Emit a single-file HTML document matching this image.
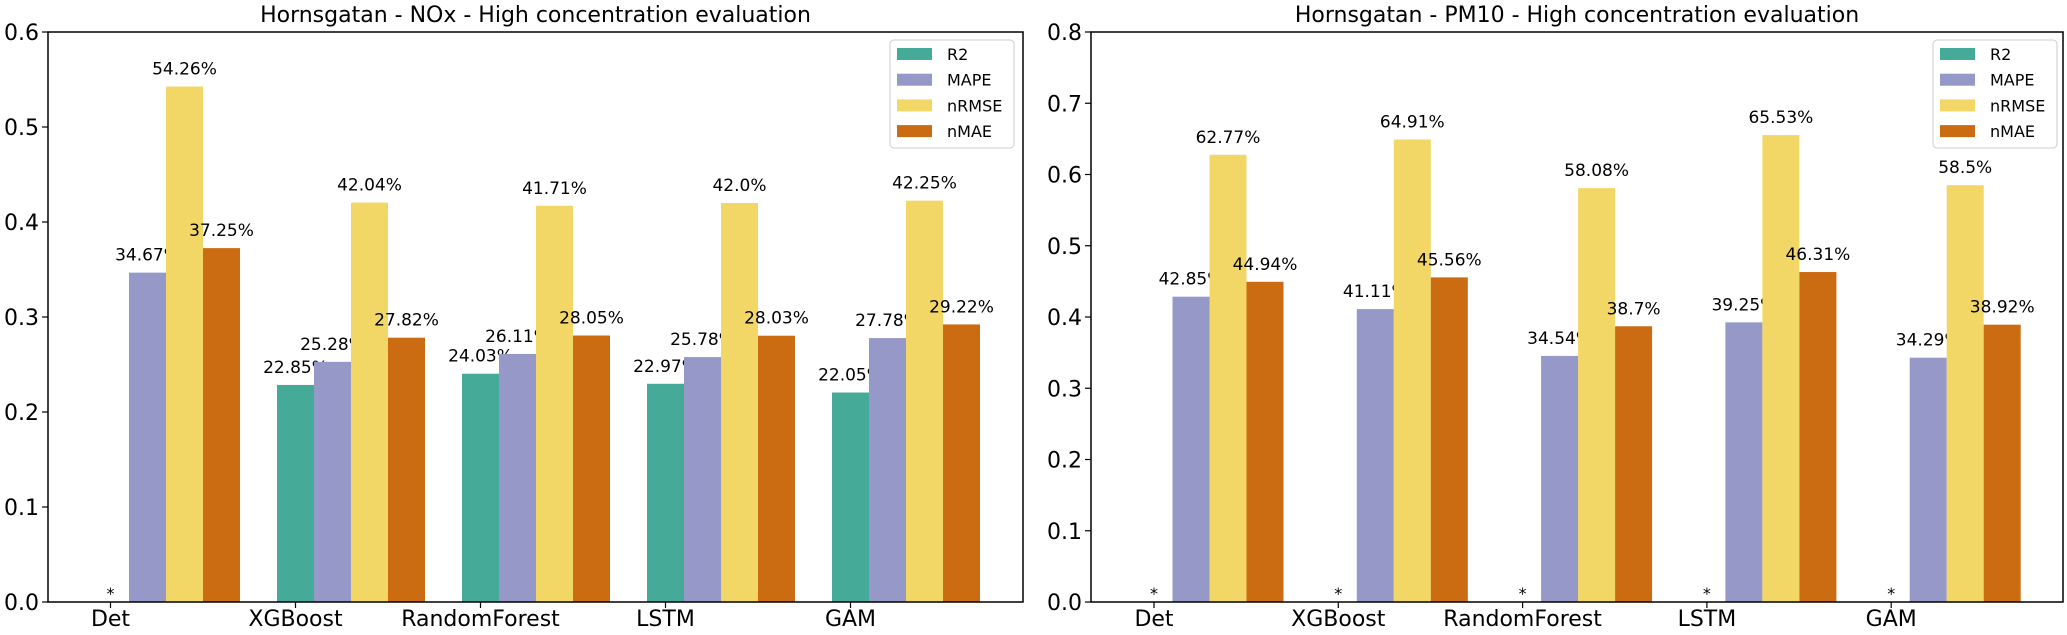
<!DOCTYPE html>
<html><head><meta charset="utf-8"><style>
body{margin:0;background:#fff}
svg{display:block;font-family:"DejaVu Sans","Liberation Sans",sans-serif}
</style></head><body>
<svg id="c" width="2067" height="635"></svg>
<script>
const categories=["Det","XGBoost","RandomForest","LSTM","GAM"];
const seriesNames=["R2","MAPE","nRMSE","nMAE"];
const colors=["#45aa98","#9698c8","#f2d666","#cb6b12"];
const noxR2=[0,0.2285,0.2403,0.2297,0.2205];
const noxMAPE=[0.3467,0.2528,0.2611,0.2578,0.2778];
const noxNRMSE=[0.5426,0.4204,0.4171,0.4200,0.4225];
const noxNMAE=[0.3725,0.2782,0.2805,0.2803,0.2922];
const pmR2=[0,0,0,0,0];
const pmMAPE=[0.4285,0.4111,0.3454,0.3925,0.3429];
const pmNRMSE=[0.6277,0.6491,0.5808,0.6553,0.5850];
const pmNMAE=[0.4494,0.4556,0.3870,0.4631,0.3892];
const noxTicks=[0,0.1,0.2,0.3,0.4,0.5,0.6];
const pmTicks=[0,0.1,0.2,0.3,0.4,0.5,0.6,0.7,0.8];

const NS="http://www.w3.org/2000/svg";
const svg=document.getElementById('c');
function mk(tag,attrs,parent){const e=document.createElementNS(NS,tag);for(const k in attrs)e.setAttribute(k,attrs[k]);(parent||svg).appendChild(e);return e;}
function fmt(v){let s=String(Math.round(v*10000)/100);if(s.indexOf('.')<0)s+='.0';return s+'%';}

function panel(opt){
  const g=mk('g',{});
  
  
  const L=opt.left,R=opt.right,T=32,B=602;
  const y=v=>B-(v/opt.ymax)*(B-T);
  const x=i=>opt.x0+i*opt.step;
  const bw=37;
  const t=mk('text',{x:(L+R)/2,y:22,'text-anchor':'middle','font-size':22},g);
  t.textContent=opt.title;
  
  
  const series=opt.series;
  series.forEach((vals,s)=>{
    vals.forEach((v,i)=>{
      const cx=x(i)+s*bw;
      if(v>0){
        const r=mk('rect',{x:cx-bw/2,y:y(v),width:bw,height:B-y(v),fill:colors[s]},g);
        
        
        const lb=mk('text',{x:cx,y:y(v)-12,'text-anchor':'middle','font-size':17},g);
        lb.textContent=fmt(v);
        
        
      } else {
        const lb=mk('text',{x:cx,y:B-3,'text-anchor':'middle','font-size':16},g);
        lb.textContent='*';
        
        
      }
    });
  });
  mk('rect',{x:L,y:T,width:R-L,height:B-T,fill:'none',stroke:'#000','stroke-width':1.5},g);
  opt.ticks.forEach(v=>{
    mk('line',{x1:L-6,x2:L,y1:y(v),y2:y(v),stroke:'#000','stroke-width':1.2},g);
    const tl=mk('text',{x:L-9,y:y(v)+8,'text-anchor':'end','font-size':22},g);
    tl.textContent=v.toFixed(1);
    
    
  });
  categories.forEach((c,i)=>{
    mk('line',{x1:x(i),x2:x(i),y1:B,y2:B+6,stroke:'#000','stroke-width':1.2},g);
    const tl=mk('text',{x:x(i),y:626,'text-anchor':'middle','font-size':22},g);
    tl.textContent=c;
    
    
  });
  const lg=mk('g',{},g);
  
  
  mk('rect',{x:opt.lx,y:40,width:124,height:108,rx:4,fill:'#fff',stroke:'#ccc','stroke-width':1},lg);
  seriesNames.forEach((n,s)=>{
    const yy=48+s*25.7;
    mk('rect',{x:opt.lx+7,y:yy,width:35,height:12,fill:colors[s]},lg);
    const tx=mk('text',{x:opt.lx+57,y:yy+12,'font-size':16},lg);
    tx.textContent=n;
    
    
  });
}
panel({name:'nox-panel',title:'Hornsgatan - NOx - High concentration evaluation',left:48,right:1023,x0:110.5,step:185,ymax:0.6,ticks:noxTicks,lx:890,series:[noxR2,noxMAPE,noxNRMSE,noxNMAE]});
panel({name:'pm10-panel',title:'Hornsgatan - PM10 - High concentration evaluation',left:1091,right:2063,x0:1154,step:184.3,ymax:0.8,ticks:pmTicks,lx:1933,series:[pmR2,pmMAPE,pmNRMSE,pmNMAE]});
</script>
</body></html>
